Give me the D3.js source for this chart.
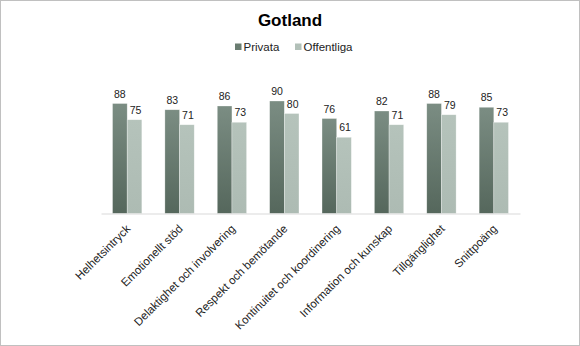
<!DOCTYPE html>
<html><head><meta charset="utf-8">
<script src="https://cdn.jsdelivr.net/npm/d3@7"></script>
<style>html,body{margin:0;padding:0;background:#fff;}svg{display:block;}</style>
</head><body>
<svg id="chart" width="580" height="346"></svg>
<script>
const title = "Gotland";
const categories = ["Helhetsintryck","Emotionellt stöd","Delaktighet och involvering","Respekt och bemötande","Kontinuitet och koordinering","Information och kunskap","Tillgänglighet","Snittpoäng"];
const seriesNames = ["Privata","Offentliga"];
const privata = [88,83,86,90,76,82,88,85];
const offentliga = [75,71,73,80,61,71,79,73];
const seriesValues = [privata, offentliga];

const svg = d3.select("#chart");
const font = "'Liberation Sans', Arial, sans-serif";
const W = 580, H = 346;
const m = {left:101, right:60, top:88.5, bottom:132.5};
const plotW = W - m.left - m.right, plotH = H - m.top - m.bottom;

svg.append("rect").attr("x",0.5).attr("y",0.5).attr("width",W-1).attr("height",H-1)
  .attr("fill","#fff").attr("stroke","#c0c0c0");

const defs = svg.append("defs");
const g1 = defs.append("linearGradient").attr("id","gDark").attr("x1",0).attr("y1",0).attr("x2",0).attr("y2",1);
g1.append("stop").attr("offset","0%").attr("stop-color","#7b8d83");
g1.append("stop").attr("offset","100%").attr("stop-color","#55675c");
const g2 = defs.append("linearGradient").attr("id","gLight").attr("x1",0).attr("y1",0).attr("x2",0).attr("y2",1);
g2.append("stop").attr("offset","0%").attr("stop-color","#b5c3bb");
g2.append("stop").attr("offset","100%").attr("stop-color","#adbbb3");
const fills = ["url(#gDark)","url(#gLight)"];
const legendColors = ["#6a7c71","#b2c0b8"];

const x0 = d3.scaleBand().domain(categories).range([m.left, m.left+plotW]).paddingInner(0.44).paddingOuter(0.22);
const x1 = d3.scaleBand().domain(seriesNames).range([0, x0.bandwidth()]);
const y = d3.scaleLinear().domain([0,100]).range([m.top+plotH, m.top]);

svg.append("text").attr("x",290).attr("y",26).attr("text-anchor","middle")
  .attr("font-family",font).attr("font-weight","bold").attr("font-size",17).text(title);

// legend
const leg = svg.append("g");
const legX = [235, 295];
seriesNames.forEach((s,i)=>{
  leg.append("rect").attr("x",legX[i]).attr("y",43.5).attr("width",6.5).attr("height",6.5).attr("fill",legendColors[i]);
  leg.append("text").attr("x",legX[i]+8.5).attr("y",51).attr("font-family",font).attr("font-size",11.5).attr("fill","#222").text(s);
});

// bars
categories.forEach((c,ci)=>{
  seriesNames.forEach((s,si)=>{
    const v = seriesValues[si][ci];
    const bx = x0(c)+x1(s);
    svg.append("rect").attr("x",bx).attr("y",y(v)).attr("width",x1.bandwidth()).attr("height",y(0)-y(v))
      .attr("fill",fills[si]).attr("stroke","rgba(255,255,255,0.5)").attr("stroke-width",0.6);
    svg.append("text").attr("x",bx + x1.bandwidth()/2 + (si===1?1:0)).attr("y",y(v)-6).attr("text-anchor","middle")
      .attr("font-family",font).attr("font-size",10.5).attr("fill","#222").text(v);
  });
});

// axis
const xAxis = svg.append("g").attr("transform",`translate(0,${y(0)})`).call(d3.axisBottom(x0).tickSize(0).tickSizeOuter(0));
xAxis.select(".domain").attr("stroke","#d9d9d9").attr("stroke-width",1);
xAxis.selectAll(".tick text")
  .attr("font-family",font).attr("font-size",11.5).attr("fill","#222")
  .attr("text-anchor","end").attr("dy",0).attr("y",0)
  .attr("transform","translate(4,16) rotate(-45)");
</script>
</body></html>
